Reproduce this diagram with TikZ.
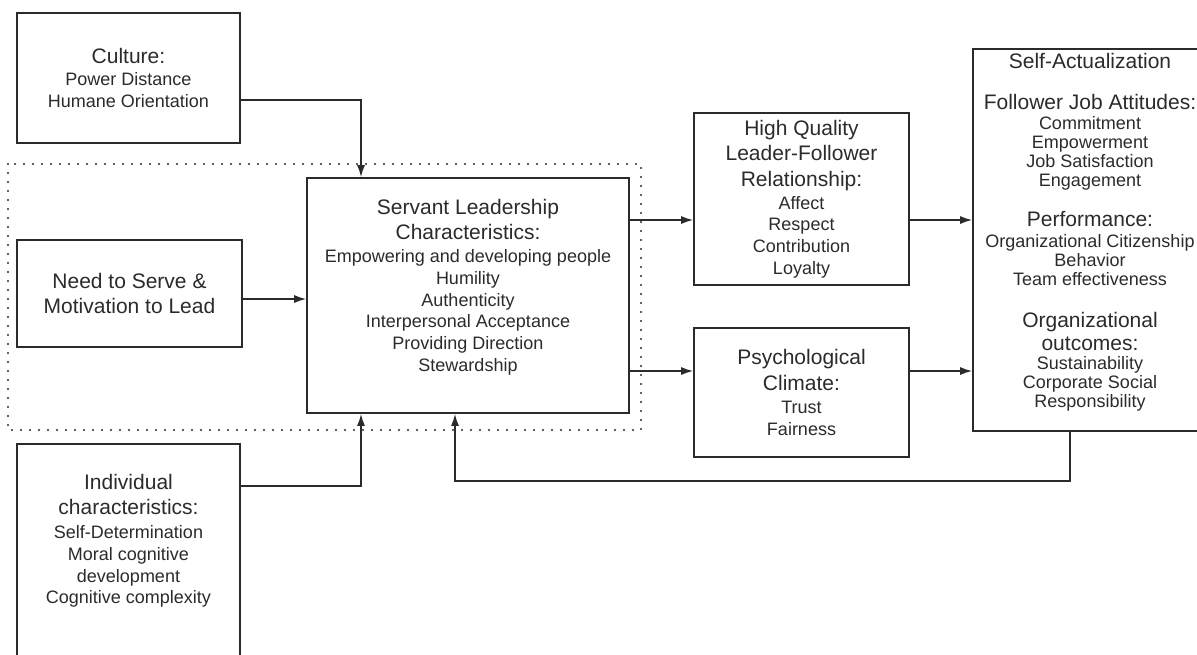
\documentclass[tikz,border=0pt]{standalone}
\usepackage{fontspec}
\setmainfont{Liberation Sans}
\usetikzlibrary{arrows.meta,calc}
\definecolor{ink}{HTML}{2B2B2B}
\newcommand{\ttl}{\fontsize{21}{25}\selectfont}
\newcommand{\itm}{\fontsize{18}{21.7}\selectfont}
\begin{document}
\begin{tikzpicture}[x=1pt,y=-1pt,
 box/.style={draw=ink, line width=1.6pt, inner sep=0pt, align=center, text=ink, font=\itm},
 txt/.style={align=center, text=ink, inner sep=0pt, font=\itm},
 arr/.style={draw=ink, line width=1.6pt, -{Latex[length=12pt,width=8pt]}},
 dotline/.style={draw=ink, line width=2.2pt, line cap=round, dash pattern=on 0pt off 9pt}]
\clip (0,0) rectangle (1197,654);
\fill[white] (0,0) rectangle (1197,654);
% dotted boundary
\draw[dotline] (8,164) rectangle (641,430);
% boxes
\node[box, minimum width=223pt, minimum height=130pt] (culture) at (128.5,78)
 {{\ttl Culture:}\\{Power Distance}\\{Humane Orientation}};
\node[box, minimum width=225pt, minimum height=107pt] (need) at (129.5,293.5)
 {{\ttl Need to Serve \&}\\[3pt]{\ttl Motivation to Lead}};
\node[box, minimum width=322pt, minimum height=235pt] (servant) at (468,295.5) {};
\node[txt, anchor=north] (servanttxt) at (468,199)
 {{\ttl Servant Leadership}\\[3pt]{\ttl Characteristics:}\\[2pt]Empowering and developing people\\Humility\\Authenticity\\Interpersonal Acceptance\\Providing Direction\\Stewardship};
\node[box, minimum width=223pt, minimum height=240pt] (indiv) at (128.5,564) {};
\node[txt, anchor=north] (indivtxt) at (128.5,474)
 {{\ttl Individual}\\[3pt]{\ttl characteristics:}\\[3pt]Self-Determination\\Moral cognitive\\development\\Cognitive complexity};
\node[box, minimum width=215pt, minimum height=172pt] (hq) at (801.5,199)
 {{\ttl High Quality}\\[4pt]{\ttl Leader-Follower}\\[4pt]{\ttl Relationship:}\\[1pt]Affect\\Respect\\Contribution\\Loyalty};
\node[box, minimum width=215pt, minimum height=129pt] (psych) at (801.5,392.5)
 {{\ttl Psychological}\\[4pt]{\ttl Climate:}\\[1pt]Trust\\Fairness};
\node[box, minimum width=234pt, minimum height=382pt] (right) at (1090,240) {};
\node[txt, anchor=north, font=\fontsize{18}{19}\selectfont] (righttxt) at (1090,53)
 {{\ttl Self-Actualization}\\[22pt]{\ttl Follower Job Attitudes:}\\[1pt]Commitment\\Empowerment\\Job Satisfaction\\Engagement\\[21pt]{\ttl Performance:}\\[2pt]Organizational Citizenship\\Behavior\\Team effectiveness\\[23pt]{\ttl Organizational}\\[4pt]{\ttl outcomes:}\\[0pt]Sustainability\\Corporate Social\\Responsibility};
% coordinates
\coordinate (hqin) at ($(hq.west)+(0,21)$);
\coordinate (psin) at ($(psych.west)+(0,-21.5)$);
\coordinate (sin1) at ($(servant.north)+(-107,0)$);
\coordinate (sin2) at ($(servant.south)+(-107,0)$);
\coordinate (fbin) at ($(servant.south)+(-13,0)$);
\coordinate (fbout) at ($(right.south)+(-20,0)$);
% connectors
\draw[arr] ([yshift=-22pt]culture.east) -| (sin1);
\draw[arr] ([yshift=-5.5pt]need.east) -- ([yshift=-5.5pt]need.east -| servant.west);
\draw[arr] ([yshift=-43pt]indiv.north east) -| (sin2);
\draw[arr] (servant.east |- hqin) -- (hqin);
\draw[arr] (servant.east |- psin) -- (psin);
\draw[arr] (hqin -| hq.east) -- (hqin -| right.west);
\draw[arr] (psin -| psych.east) -- (psin -| right.west);
\draw[arr] (fbout) -- ++(0,49) -| (fbin);
\end{tikzpicture}
\end{document}
